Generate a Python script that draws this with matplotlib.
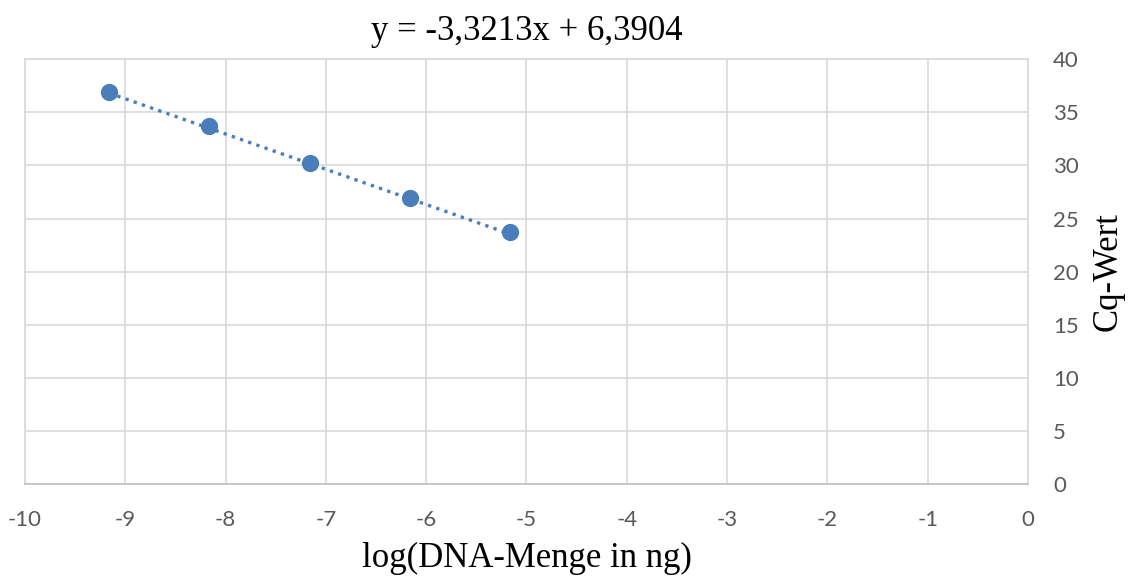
import matplotlib
matplotlib.use("Agg")
import matplotlib.pyplot as plt
import numpy as np

# Standardkurve qPCR
log_dna = [-9.16, -8.16, -7.16, -6.16, -5.16]
cq = [36.95, 33.70, 30.20, 26.95, 23.70]
slope = -3.3213
intercept = 6.3904
title = "y = -3,3213x + 6,3904"

blue = "#4a7ebb"
grid = "#d9d9d9"
tick_col = "#595959"

plt.rcParams["axes.unicode_minus"] = False

fig = plt.figure(figsize=(11.31, 5.81), dpi=100)
ax = fig.add_axes([0.022, 0.167, 0.887, 0.731])

x_fit = np.array([min(log_dna), max(log_dna)])
ax.plot(x_fit, slope * x_fit + intercept, color=blue, linestyle=(0, (1, 1.6)),
        linewidth=2.4, zorder=2)
ax.scatter(log_dna, cq, s=130, color=blue, zorder=3)

ax.set_xlim(-10, 0)
ax.set_ylim(0, 40)
ax.set_xticks(range(-10, 1))
ax.set_yticks(range(0, 41, 5))
ax.grid(True, color=grid, linewidth=1.2)
ax.set_axisbelow(True)
for side in ["left", "top", "right"]:
    ax.spines[side].set_color(grid)
    ax.spines[side].set_linewidth(1.2)
ax.spines["bottom"].set_color("#bfbfbf")
ax.spines["bottom"].set_linewidth(1.2)

ax.yaxis.tick_right()
ax.yaxis.set_label_position("right")
ax.tick_params(length=0, colors=tick_col, labelsize=16)
ax.tick_params(axis="x", pad=19)
ax.tick_params(axis="y", pad=18)
for lab in ax.get_xticklabels() + ax.get_yticklabels():
    lab.set_family("Lato")

ax.set_xlabel("log(DNA-Menge in ng)", family="Liberation Serif", fontsize=25, labelpad=8)
ax.set_ylabel("Cq-Wert", family="Liberation Serif", fontsize=25, labelpad=9)
ax.set_title(title, family="Liberation Serif", fontsize=25, pad=14)

fig.savefig("out.png", dpi=100)
